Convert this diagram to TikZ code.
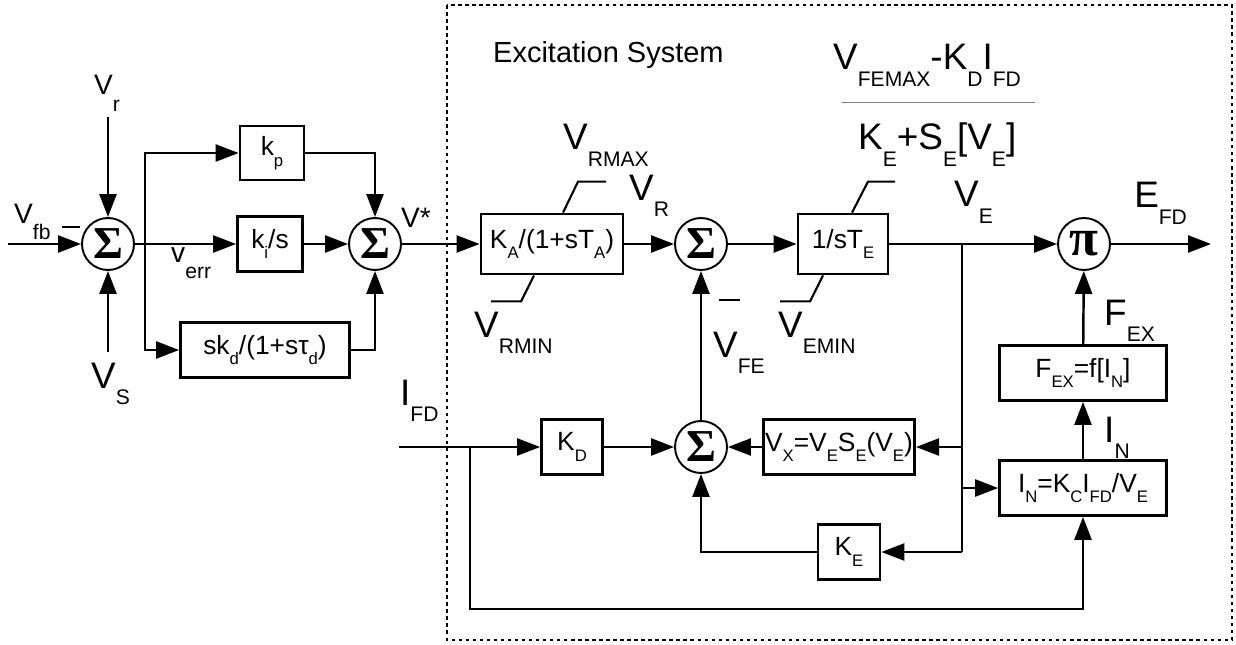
\documentclass[tikz,border=0pt]{standalone}
\usepackage{fontspec}
\setmainfont{Liberation Sans}
\newfontfamily\symfont{Liberation Serif}
\usetikzlibrary{arrows.meta,calc}
\newcommand{\boxtxt}{\fontsize{15}{18}\selectfont}
\newcommand{\subbox}[1]{\raisebox{-6pt}{\fontsize{9.5}{11}\selectfont #1}}
\newcommand{\biglbl}{\fontsize{21}{25}\selectfont}
\newcommand{\midlbl}{\fontsize{16}{19}\selectfont}
\newcommand{\titlefont}{\fontsize{16.5}{19}\selectfont}
\newcommand{\sublbl}[1]{\raisebox{-9.5pt}{\fontsize{12}{14}\selectfont #1}}
\newcommand{\sumsym}{{\symfont\bfseries\fontsize{26}{26}\selectfont Σ}}
\newcommand{\prodsym}{{\symfont\bfseries\fontsize{30}{30}\selectfont π}}

\begin{document}
\begin{tikzpicture}[x=0.02cm, y=-0.02cm, >={Triangle[length=0.46cm,width=0.34cm]}, line width=1.4pt, blk/.style={draw, line width=1.6pt, inner sep=1pt, minimum height=1.1cm, font=\boxtxt}, sum/.style={draw, circle, line width=1.1pt, minimum size=1.04cm, inner sep=0pt}, lbl/.style={anchor=base west, inner sep=0pt, font=\biglbl}, lim/.style={line width=1.2pt}]
\useasboundingbox (0,0) rectangle (1236,645);
% PID part
\node[sum] (s1) at (108,244) {\sumsym};
\node[blk, minimum width=1.28cm, minimum height=1.08cm] (kp) at (272,153) {k\subbox{p}};
\node[blk, minimum width=1.3cm] (ki) at (270,244) {k\subbox{i}/s};
\node[blk, minimum width=3.38cm] (kd) at (265,350) {sk\subbox{d}/(1+sτ\subbox{d})};
\node[sum] (s2) at (375,244) {\sumsym};
% excitation system
\node[blk, minimum width=2.84cm, minimum height=1.2cm] (ka) at (552,244) {K\subbox{A}/(1+sT\subbox{A})};
\node[sum] (s3) at (701,244) {\sumsym};
\node[blk, minimum width=1.8cm, minimum height=1.2cm] (te) at (843,244) {1/sT\subbox{E}};
\node[sum] (pi) at (1084,244) {\prodsym};
\node[blk, minimum width=3.34cm] (fex) at (1083,373) {F\subbox{EX}=f[I\subbox{N}]};
\node[blk, minimum width=3.34cm] (inb) at (1083,488) {I\subbox{N}=K\subbox{C}I\subbox{FD}/V\subbox{E}};
\node[blk, minimum width=1.22cm] (kdb) at (572,447) {K\subbox{D}};
\node[sum] (s4) at (701,447) {\sumsym};
\node[blk, minimum width=3cm] (vx) at (839,447) {V\subbox{X}=V\subbox{E}S\subbox{E}(V\subbox{E})};
\node[blk, minimum width=1.24cm] (ke) at (849,552) {K\subbox{E}};
\coordinate (fbin) at (8,244);
\coordinate (vrin) at (108,117);
\coordinate (vsin) at (108,352);
\coordinate (br) at (145,244);
\coordinate (efdout) at (1211,244);
\coordinate (jv) at (962,244);
\coordinate (jb) at (962,552);
\coordinate (ifd) at (399,447);
\coordinate (bf) at (470,447);
\coordinate (bb) at (470,609);
% connectors
\draw[->] (fbin) -- (s1);
\draw[->] (vrin) -- (s1);
\draw[->] (vsin) -- (s1);
\draw[->] (s1) -- (ki);
\draw[->] (br) |- (kp);
\draw[->] (br) |- (kd);
\draw[->] (kp) -| (s2);
\draw[->] (ki) -- (s2);
\draw[->] (kd) -| (s2);
\draw[->] (s2) -- (ka);
\draw[->] (ka) -- (s3);
\draw[->] (s3) -- (te);
\draw[->] (te) -- (pi);
\draw[->] (pi) -- (efdout);
\draw[->] (fex) -- (pi);
\draw[->] (inb) -- (fex);
\draw (jv) -- (jb);
\draw[->] (jv |- vx) -- (vx);
\draw[->] (jv |- inb) -- (inb);
\draw[->] (jb) -- (ke);
\draw[->] (vx) -- (s4);
\draw[->] (ifd) -- (kdb);
\draw[->] (kdb) -- (s4);
\draw[->] (ke) -| (s4);
\draw[->] (s4) -- (s3);
\draw[->] (bf) -- (bb) -| (inb);
% limiters
\draw[lim] ($(ka.north)+(11,0)$) -- ++(15,-31) -- ++(28,0);
\draw[lim] ($(ka.south)+(-18,0)$) -- ++(-13,26) -- ++(-30,0);
\draw[lim] ($(te.north)+(9,0)$) -- ++(16,-31) -- ++(27,0);
\draw[lim] ($(te.south)+(-20,0)$) -- ++(-13,26) -- ++(-30,0);
% minus signs
\draw[lim] (62,227) -- (80,227);
\draw[lim] (719,300) -- (740,300);
% labels
\node[lbl, font=\midlbl] (vr) at (93,95) {V\sublbl{r}};
\node[lbl] (vs) at (90,388) {V\sublbl{S}};
\node[lbl, font=\midlbl] (vfb) at (13,223) {V\sublbl{fb}};
\node[lbl, font=\midlbl] (verr) at (170,262) {v\sublbl{err}};
\node[lbl, font=\midlbl] (vstar) at (400,227) {V*};
\node[lbl, font=\titlefont] (title) at (492,63) {Excitation System};
\node[lbl] (vrmax) at (562,150) {V\sublbl{RMAX}};
\node[lbl] (vrl) at (628,200) {V\sublbl{R}};
\node[lbl] (vrmin) at (473,337) {V\sublbl{RMIN}};
\node[lbl] (vfe) at (712,357) {V\sublbl{FE}};
\node[lbl] (vemin) at (777,337) {V\sublbl{EMIN}};
\node[lbl] (num) at (832,70) {V\sublbl{FEMAX}-K\sublbl{D}I\sublbl{FD}};
\draw[gray, line width=0.5pt] (842,102) -- (1035,102);
\node[lbl] (den) at (857,150) {K\sublbl{E}+S\sublbl{E}[V\sublbl{E}]};
\node[lbl] (vel) at (953,207) {V\sublbl{E}};
\node[lbl] (efd) at (1133,208) {E\sublbl{FD}};
\node[lbl] (fexl) at (1103,325) {F\sublbl{EX}};
\node[lbl] (inl) at (1103,442) {I\sublbl{N}};
\node[lbl] (ifdl) at (399,405) {I\sublbl{FD}};
% excitation system frame
\draw[line width=1.5pt, dash pattern=on 2pt off 2pt] (447,5) rectangle (1232,640);
\end{tikzpicture}
\end{document}
